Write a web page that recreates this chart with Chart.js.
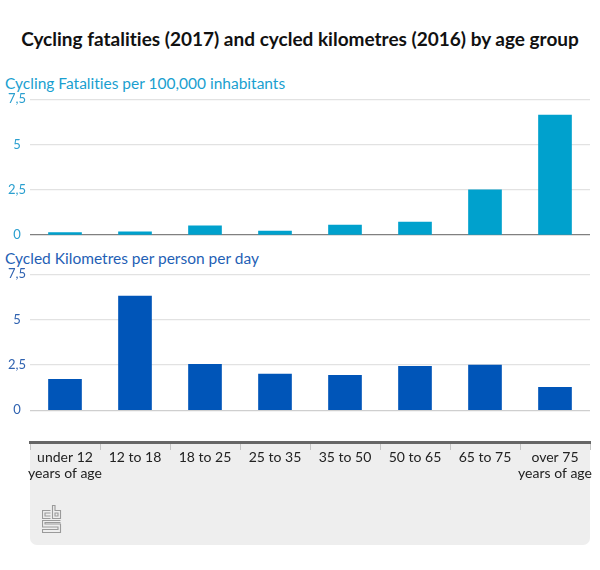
<!DOCTYPE html>
<html>
<head>
<meta charset="utf-8">
<script src="https://cdn.jsdelivr.net/npm/chart.js@4/dist/chart.umd.min.js"></script>
<style>
  body { margin: 0; width: 600px; height: 570px; background: #fff; font-family: Lato, "Open Sans", sans-serif; position: relative; overflow: hidden; font-variant-ligatures: none; }
  .title { position: absolute; top: 27px; left: 0; width: 600px; text-align: center; font-weight: 700; font-size: 19px; color: #111; }
  .sub { position: absolute; left: 5px; font-size: 15.5px; }
  #sub1 { top: 74px; color: #1a9fd0; }
  #sub2 { top: 249px; color: #1f5fb5; }
  .panel { position: absolute; left: 30px; top: 442px; width: 560px; height: 103px; background: #eeeeee; border-radius: 0 0 7px 7px; }
  canvas { position: absolute; left: 0; }
  #top { top: 90px; }
  #bot { top: 265px; }
  .logo { position: absolute; left: 42px; top: 505px; }
</style>
</head>
<body>
<div class="panel"></div>
<div class="title">Cycling fatalities (2017) and cycled kilometres (2016) by age group</div>
<div class="sub" id="sub1">Cycling Fatalities per 100,000 inhabitants</div>
<div class="sub" id="sub2">Cycled Kilometres per person per day</div>
<canvas id="top" width="600" height="155"></canvas>
<canvas id="bot" width="600" height="227"></canvas>
<svg class="logo" width="20" height="29" viewBox="0 0 20 29" fill="none" stroke="#9a9a9a" stroke-width="1.1">
  <path d="M8.5 5.5 H0.5 V13.5 H8.5 M8.5 8 H3 V11 H8.5"/>
  <path d="M10.5 0.5 V13.5 H18.5 V5.5 H13 V0.5 Z M13 8 H16 V11 H13 Z"/>
  <path d="M18.5 15.5 H0.5 V22 H16 V24.5 H0.5 V27.5 H18.5 V19 H3 V17.5 H18.5"/>
</svg>
<script>
const categories = [['under 12', 'years of age'], '12 to 18', '18 to 25', '25 to 35', '35 to 50', '50 to 65', '65 to 75', ['over 75', 'years of age']];
const fatalities = [0.13, 0.17, 0.51, 0.22, 0.55, 0.72, 2.5, 6.63];
const kilometres = [1.71, 6.3, 2.54, 1.99, 1.93, 2.43, 2.49, 1.27];
const yTicks = [0, 2.5, 5, 7.5];

const fmt = v => String(v).replace('.', ',');
const tickFont = { family: 'Lato, "Open Sans", sans-serif', size: 13 };

function yAxis(color, min, zeroColor) {
  return {
    min: min, max: 7.5,
    afterBuildTicks: axis => { axis.ticks = yTicks.map(v => ({ value: v })); },
    afterFit: axis => { axis.width = 30; axis.paddingTop = 0; axis.paddingBottom = 0; },
    border: { display: false },
    grid: { drawTicks: false, color: c => c.tick && c.tick.value === 0 ? zeroColor : '#e2e2e2', lineWidth: c => c.tick && c.tick.value === 0 ? 1.3 : 1.2 },
    ticks: { color: color, font: tickFont, padding: 4, crossAlign: 'center', callback: v => fmt(v) }
  };
}

new Chart(document.getElementById('top'), {
  type: 'bar',
  data: { labels: categories, datasets: [{ data: fatalities, backgroundColor: '#00a1cd', barThickness: 33 }] },
  options: {
    responsive: false, animation: false,
    layout: { padding: { top: 9.3, bottom: 10, right: 10, left: 0 } },
    plugins: { legend: { display: false }, tooltip: { enabled: false } },
    scales: {
      x: { display: false },
      y: yAxis('#2a9fcf', 0, '#808080')
    }
  }
});

new Chart(document.getElementById('bot'), {
  type: 'bar',
  data: { labels: categories, datasets: [{ data: kilometres, backgroundColor: '#0055b8', barThickness: 33 }] },
  options: {
    responsive: false, animation: false,
    layout: { padding: { top: 9.3, bottom: 0, right: 10, left: 0 } },
    plugins: { legend: { display: false }, tooltip: { enabled: false } },
    scales: {
      x: {
        afterFit: axis => { axis.height = 50; axis.paddingLeft = 0; axis.paddingRight = 0; },
        border: { color: '#666', width: 3 },
        grid: { drawOnChartArea: false, drawTicks: true, tickLength: 8, color: '#c4c4c4' },
        ticks: { color: '#222', font: { family: 'Lato, "Open Sans", sans-serif', size: 14, lineHeight: 1.1 }, padding: 0, maxRotation: 0, autoSkip: false }
      },
      y: yAxis('#2f62b0', -1.75, '#cfcfcf')
    }
  }
});
</script>
</body>
</html>
